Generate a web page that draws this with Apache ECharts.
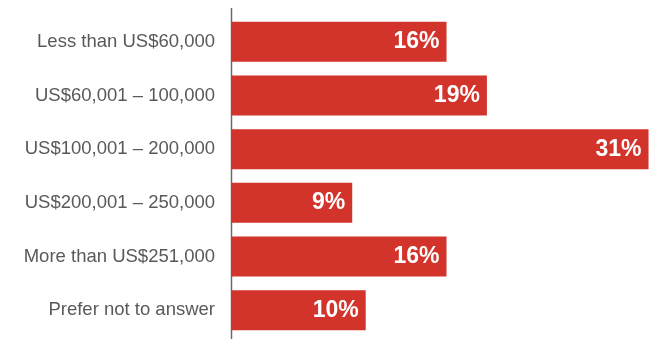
<!DOCTYPE html>
<html>
<head>
<meta charset="utf-8">
<script src="https://cdn.jsdelivr.net/npm/echarts@6/dist/echarts.min.js"></script>
<style>
  html, body { margin: 0; padding: 0; background: #fff; }
  #chart { width: 662px; height: 339px; }
</style>
</head>
<body>
<div id="chart"></div>
<script>
// Household income brackets (top to bottom) and share of respondents (%)
const categories = [
  'Less than US$60,000',
  'US$60,001 \u2013 100,000',
  'US$100,001 \u2013 200,000',
  'US$200,001 \u2013 250,000',
  'More than US$251,000',
  'Prefer not to answer'
];
const shares = [16, 19, 31, 9, 16, 10];

const chart = echarts.init(document.getElementById('chart'));
chart.setOption({
  animation: false,
  grid: { left: 231, right: 0, top: 15, bottom: 2, containLabel: false },
  xAxis: {
    type: 'value', min: 0, max: 32,
    show: false
  },
  yAxis: {
    type: 'category',
    data: categories,
    inverse: true,
    axisLine: { show: false },
    axisTick: { show: false },
    axisLabel: {
      margin: 16,
      color: '#595959',
      fontFamily: 'Liberation Sans, Arial, sans-serif',
      fontSize: 18.5
    }
  },
  // vertical baseline at the value origin, running the full chart height
  graphic: [{
    type: 'line',
    shape: { x1: 231.5, y1: 8, x2: 231.5, y2: 339 },
    style: { stroke: '#6b6b6b', lineWidth: 1.5 }
  }],
  series: [{
    type: 'bar',
    data: shares,
    barWidth: 40,
    itemStyle: { color: '#D2332B' },
    label: {
      show: true,
      position: 'insideRight',
      distance: 7,
      formatter: '{c}%',
      color: '#fff',
      fontFamily: 'Liberation Sans, Arial, sans-serif',
      fontWeight: 'bold',
      fontSize: 23
    }
  }]
});
</script>
</body>
</html>
